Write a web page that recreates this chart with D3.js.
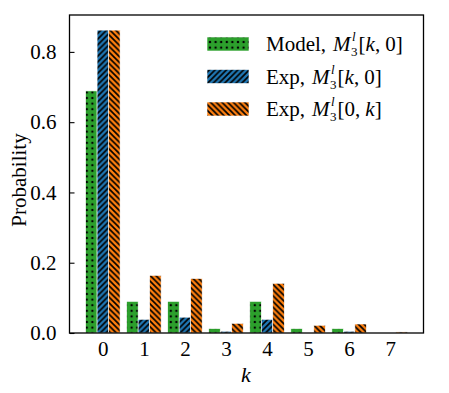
<!DOCTYPE html>
<html><head><meta charset="utf-8">
<script src="https://cdn.jsdelivr.net/npm/d3@7"></script>
<style>body{margin:0;background:#fff}svg{display:block}text{font-family:"Liberation Serif","Times New Roman",serif}</style>
</head><body><svg id="c" width="449" height="393"></svg>
<script>
const categories = [0,1,2,3,4,5,6,7];
const modelK0 = [0.689,0.090,0.090,0.0125,0.090,0.0125,0.0125,0];
const expK0   = [0.862,0.039,0.045,0.005,0.039,0,0.005,0];
const exp0K   = [0.862,0.164,0.155,0.0276,0.1415,0.022,0.0256,0.003];
const yTicks = [0.0,0.2,0.4,0.6,0.8];
const seriesNames = ["Model", "Exp", "Exp"];
const seriesIdx = ["k0", "k0", "0k"];
const colors = ["#2ca02c","#1f77b4","#ff7f0e"];

const svg = d3.select("#c");
const m = {l:69.5, t:15, r:423.5, b:333};
const w = 0.28;
const x = d3.scaleLinear().domain([-0.812, 7.812]).range([m.l, m.r]);
const y = d3.scaleLinear().domain([0, 0.905]).range([m.b, m.t]);
const FS = 21;

const defs = svg.append("defs");
const D = 5.6;
const pd = defs.append("pattern").attr("id","p0").attr("patternUnits","userSpaceOnUse").attr("width",D).attr("height",D);
pd.append("rect").attr("width",D).attr("height",D).attr("fill",colors[0]);
pd.append("circle").attr("cx",D/2).attr("cy",D/2).attr("r",1.2).attr("fill","#000");
const P = 5.7;
const p1 = defs.append("pattern").attr("id","p1").attr("patternUnits","userSpaceOnUse").attr("width",P).attr("height",P);
p1.append("rect").attr("width",P).attr("height",P).attr("fill",colors[1]);
p1.append("path").attr("d",`M0,${P} L${P},0 M-1,1 L1,-1 M${P-1},${P+1} L${P+1},${P-1}`).attr("stroke","#000").attr("stroke-width",1.7);
const p2 = defs.append("pattern").attr("id","p2").attr("patternUnits","userSpaceOnUse").attr("width",P).attr("height",P);
p2.append("rect").attr("width",P).attr("height",P).attr("fill",colors[2]);
p2.append("path").attr("d",`M0,0 L${P},${P} M${P-1},-1 L${P+1},1 M-1,${P-1} L1,${P+1}`).attr("stroke","#000").attr("stroke-width",1.7);

const series = [modelK0, expK0, exp0K];
series.forEach((vals, si) => {
  svg.append("g").selectAll("rect").data(categories).join("rect")
    .attr("x", d => x(d + (si-1.5)*w))
    .attr("width", x(w) - x(0))
    .attr("y", (d,i) => y(vals[i]))
    .attr("height", (d,i) => y(0) - y(vals[i]))
    .attr("fill", `url(#p${si})`)
    .attr("stroke", "#fff").attr("stroke-width", 0.6);
});

svg.append("rect").attr("x",m.l).attr("y",m.t).attr("width",m.r-m.l).attr("height",m.b-m.t)
  .attr("fill","none").attr("stroke","#000").attr("stroke-width",1.3);

const yAxis = d3.axisLeft(y).tickValues(yTicks).tickFormat(d3.format(".1f")).tickSizeInner(-5).tickSizeOuter(0).tickPadding(13);
const gy = svg.append("g").attr("transform",`translate(${m.l},0)`).call(yAxis);
gy.select(".domain").remove();
gy.selectAll(".tick line").attr("stroke","#000").attr("stroke-width",1.1);
gy.selectAll(".tick text").attr("font-size",FS).attr("fill","#000").attr("font-family","Liberation Serif, serif");

const xAxis = d3.axisBottom(x).tickValues(categories).tickFormat(d3.format("d")).tickSize(0).tickPadding(8);
const gx = svg.append("g").attr("transform",`translate(0,${m.b})`).call(xAxis);
gx.select(".domain").remove();
gx.selectAll(".tick text").attr("font-size",FS).attr("fill","#000").attr("font-family","Liberation Serif, serif");

svg.append("text").attr("x",246).attr("y",382).attr("text-anchor","middle").attr("font-size",FS+1).attr("font-style","italic").text("k");
svg.append("text").attr("transform",`translate(26,${(m.t+m.b)/2+6}) rotate(-90)`).attr("text-anchor","middle").attr("font-size",FS).text("Probability");

const lg = svg.append("g");
function piece(cx, by, str, opts) {
  const t = lg.append("text").attr("x",cx).attr("y",by).attr("font-size",opts.fs||FS).attr("fill","#000").text(str);
  if (opts.it) t.attr("font-style","italic");
  return cx + t.node().getComputedTextLength();
}
seriesNames.forEach((name, i) => {
  const cy = 44 + i*32.5;
  lg.append("rect").attr("x",207).attr("y",cy-7).attr("width",42).attr("height",14).attr("fill",`url(#p${i})`).attr("stroke","#fff").attr("stroke-width",0.6);
  const by = cy + 7;
  let cx = 266;
  cx = piece(cx, by, name + ",", {}) + 7;
  cx = piece(cx, by, "M", {it:true}) + 0.5;
  const a = piece(cx, by + 5, "3", {fs:13});
  const b = piece(cx + 1, by - 10, "l", {fs:13, it:true});
  cx = Math.max(a, b) + 1;
  cx = piece(cx, by, "[", {});
  if (seriesIdx[i] === "k0") {
    cx = piece(cx, by, "k", {it:true});
    cx = piece(cx, by, ",", {}) + 5;
    cx = piece(cx, by, "0]", {});
  } else {
    cx = piece(cx, by, "0,", {}) + 5;
    cx = piece(cx, by, "k", {it:true});
    cx = piece(cx, by, "]", {});
  }
});
</script></body></html>
